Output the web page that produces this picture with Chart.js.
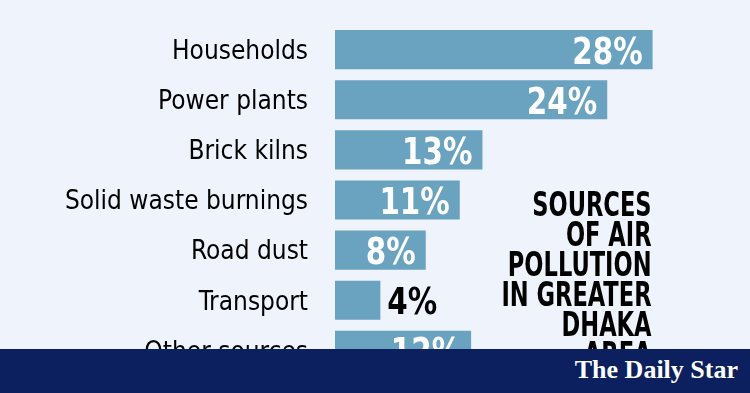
<!DOCTYPE html>
<html>
<head>
<meta charset="utf-8">
<script src="https://cdn.jsdelivr.net/npm/chart.js@4"></script>
<style>
html,body{margin:0;padding:0;background:#eff3fb;}
#wrap{position:relative;width:750px;height:393px;overflow:hidden;background:#eff3fb;}
canvas{position:absolute;left:0;top:0;}
#title{position:absolute;right:98px;top:190px;text-align:right;font-family:"DejaVu Sans Condensed","DejaVu Sans",sans-serif;font-weight:bold;font-size:33px;line-height:30px;color:#000;transform:scaleX(0.76);transform-origin:right top;}
#banner{position:absolute;left:0;top:349px;width:750px;height:44px;background:#0c1f5f;}
#logo{position:absolute;right:12px;top:6px;font-family:"Liberation Serif","DejaVu Serif",serif;font-weight:bold;font-size:26px;color:#fff;line-height:30px;}
</style>
</head>
<body>
<div id="wrap">
<canvas id="c" width="750" height="393"></canvas>
<div id="title">SOURCES<br>OF AIR<br>POLLUTION<br>IN GREATER<br>DHAKA<br>AREA</div>
<div id="banner"><div id="logo">The Daily Star</div></div>
</div>
<script>
const categories = ["Households","Power plants","Brick kilns","Solid waste burnings","Road dust","Transport","Other sources"];
const shares = [28,24,13,11,8,4,12];

const valueLabels = {
  id:'valueLabels',
  afterDatasetsDraw(chart){
    const ctx = chart.ctx;
    const meta = chart.getDatasetMeta(0);
    const sx = 0.86;
    meta.data.forEach((bar,i)=>{
      const txt = shares[i] + '%';
      const w = bar.x - bar.base;
      const y = bar.y + 14;
      ctx.save();
      ctx.font = 'bold 38px "DejaVu Sans Condensed","DejaVu Sans",sans-serif';
      ctx.textBaseline = 'alphabetic';
      if (w > 70){
        ctx.fillStyle = '#ffffff';
        ctx.textAlign = 'right';
        ctx.translate(bar.x - 10, y);
      } else {
        ctx.fillStyle = '#000000';
        ctx.textAlign = 'left';
        ctx.translate(bar.x + 7, y);
      }
      ctx.scale(sx,1);
      ctx.fillText(txt, 0, 0);
      ctx.restore();
    });
  }
};

new Chart(document.getElementById('c'), {
  type:'bar',
  data:{labels:categories, datasets:[{data:shares, backgroundColor:'#69a3c0', borderWidth:0, categoryPercentage:1, barPercentage:0.78}]},
  options:{
    indexAxis:'y',
    responsive:false,
    animation:false,
    layout:{padding:{left:0,right:18,top:24.5,bottom:17.5}},
    plugins:{legend:{display:false},tooltip:{enabled:false}},
    scales:{
      x:{min:0,max:35,display:false},
      y:{
        grid:{display:false,drawTicks:false},
        border:{display:false},
        afterFit(s){s.width=335;s.paddingTop=0;s.paddingBottom=0;},
        ticks:{
          padding:27,color:'#000',
          callback(v){return ['', categories[v]];},
          font:{family:'"DejaVu Sans Condensed","DejaVu Sans",sans-serif',size:26,lineHeight:'5px'}
        }
      }
    }
  },
  plugins:[valueLabels]
});
</script>
</body>
</html>
